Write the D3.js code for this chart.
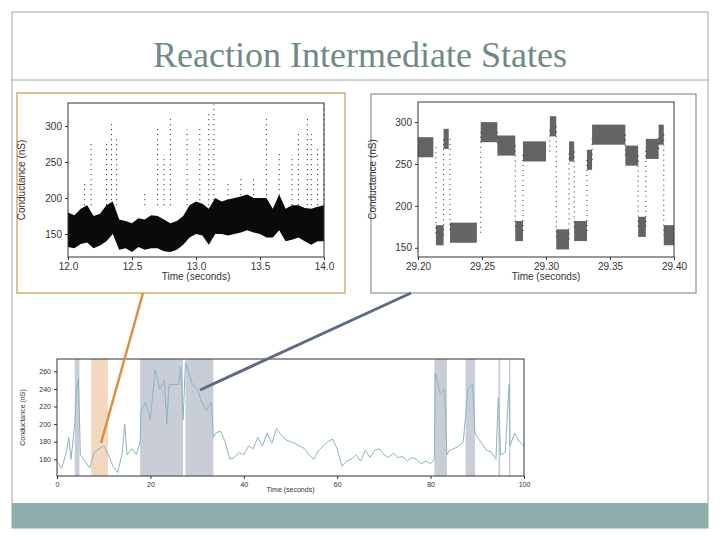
<!DOCTYPE html>
<html><head><meta charset="utf-8">
<script src="https://cdn.jsdelivr.net/npm/d3@7"></script>
<style>body{margin:0;background:#fff}svg{display:block}</style>
</head><body><svg id="c" width="720" height="540"></svg>
<script>
// bottom trace: [time s, conductance nS]
const traceT = [0,1,2,2.5,3,3.8,4.2,4.6,5,6,7,8,9,10,11,12,13,14,14.5,15,16,17,17.8,18,19,20,21,22,23,23.5,24,25,26,26.5,27,27.5,28,29,30,31,32,33,33.5,34,35,36,37,38,39,40,41,42,43,44,45,46,47,48,49,50,51,52,53,54,55,56,57,58,59,60,61,62,63,64,65,66,67,68,69,70,71,72,73,74,75,76,77,78,79,80,80.8,81,82,83,83.5,84,85,86,87,87.5,88,89,89.5,90,91,92,93,94,94.5,95,96,96.8,97,98,99,100];
const traceV = [158,150,168,185,160,200,240,252,165,158,150,168,172,175,165,152,145,168,200,165,172,165,180,215,225,205,262,240,250,200,245,245,245,265,205,270,262,245,240,225,215,225,185,190,192,180,160,162,168,165,175,172,185,175,190,178,195,188,182,180,178,175,172,165,160,170,175,180,183,172,152,158,160,165,158,170,162,170,172,165,162,167,162,163,158,162,160,155,158,155,160,258,235,240,165,170,172,175,180,210,240,245,190,185,178,170,168,160,230,165,168,245,175,190,180,175];
const grayBands = [[3.8,4.8],[17.8,27],[27.5,33.5],[80.8,83.5],[87.5,89.5],[94.5,94.9],[96.8,97.1]];
const orangeBands = [[7.3,10.9]];
const bottomXTicks = [0,20,40,60,80,100];
const bottomYTicks = [160,180,200,220,240,260];

// zoom 12-14 s: dense band low/high + sparse spikes
const bandT = [12.0,12.05,12.1,12.15,12.2,12.25,12.3,12.35,12.4,12.45,12.5,12.55,12.6,12.65,12.7,12.75,12.8,12.85,12.9,12.95,13.0,13.05,13.1,13.15,13.2,13.25,13.3,13.35,13.4,13.45,13.5,13.55,13.6,13.65,13.7,13.75,13.8,13.85,13.9,13.95,14.0];
const bandLo = [132,130,136,138,130,134,140,150,128,130,125,132,128,130,130,126,125,128,135,145,150,148,135,150,150,148,150,152,155,152,150,145,145,155,140,142,145,140,135,140,140];
const bandHi = [180,176,185,190,175,178,190,195,170,168,165,172,170,176,175,170,165,168,175,190,195,192,185,200,195,198,200,202,205,200,200,200,185,205,185,190,190,186,185,188,190];
const spikeT = [12.13,12.18,12.3,12.34,12.38,12.6,12.7,12.75,12.8,12.93,13.03,13.1,13.14,13.25,13.35,13.45,13.55,13.65,13.75,13.8,13.87,13.9,13.95,14.0];
const spikeV = [220,280,280,305,285,210,300,260,310,295,300,320,330,220,230,230,315,265,260,290,310,290,270,330];

// zoom 29.2-29.4 s: dwell segments [start, end, level]
const dwellStart = [29.200,29.214,29.220,29.225,29.249,29.262,29.276,29.282,29.303,29.308,29.318,29.322,29.332,29.336,29.362,29.372,29.378,29.388,29.392];
const dwellEnd   = [29.212,29.220,29.224,29.246,29.262,29.276,29.282,29.300,29.308,29.318,29.322,29.332,29.336,29.362,29.372,29.378,29.388,29.392,29.400];
const dwellLevel = [270,165,280,168,288,272,170,265,295,160,265,170,255,285,260,175,268,285,165];

const svg = d3.select("#c");
const font = "Liberation Sans, Arial, sans-serif";

// slide frame
svg.append("rect").attr("x",12).attr("y",12).attr("width",696).attr("height",516)
  .attr("fill","none").attr("stroke","#9aa8a6");
svg.append("line").attr("x1",12).attr("x2",708).attr("y1",80).attr("y2",80).attr("stroke","#9aa8a6");
svg.append("text").attr("x",360).attr("y",67).attr("text-anchor","middle")
  .attr("font-family","Liberation Serif, Times New Roman, serif").attr("font-size",36)
  .attr("fill","#6e8a86").text("Reaction Intermediate States");
svg.append("rect").attr("x",12).attr("y",503).attr("width",696).attr("height",25).attr("fill","#8eaeab");

function frame(g, x, y, xTicks, yTicks, xFmt, yFmt, fs, ylabel, xlabel, labelX) {
  const [x0,x1] = x.range(), [y1,y0] = y.range();
  g.append("g").attr("transform",`translate(0,${y1})`)
    .call(d3.axisBottom(x).tickValues(xTicks).tickFormat(xFmt).tickSize(3));
  g.append("g").attr("transform",`translate(${x0},0)`)
    .call(d3.axisLeft(y).tickValues(yTicks).tickFormat(yFmt).tickSize(3));
  g.selectAll(".domain").remove();
  g.selectAll(".tick text").attr("font-family",font).attr("font-size",fs).attr("fill","#333");
  g.selectAll(".tick line").attr("stroke","#333");
  g.append("rect").attr("x",x0).attr("y",y0).attr("width",x1-x0).attr("height",y1-y0)
    .attr("fill","none").attr("stroke","#333").attr("stroke-width",1);
  g.append("text").attr("x",(x0+x1)/2).attr("y",y1+fs*2.3).attr("text-anchor","middle")
    .attr("font-family",font).attr("font-size",fs).attr("fill","#333").text(xlabel);
  g.append("text").attr("transform",`translate(${labelX},${(y0+y1)/2}) rotate(-90)`)
    .attr("text-anchor","middle").attr("font-family",font).attr("font-size",fs)
    .attr("fill","#333").text(ylabel);
}

// ---- top-left panel
svg.append("rect").attr("x",17).attr("y",93).attr("width",328).attr("height",200)
  .attr("fill","none").attr("stroke","#d8ad6e").attr("stroke-width",1.5);
{
  const g = svg.append("g");
  const x = d3.scaleLinear().domain([12,14]).range([68,324]);
  const y = d3.scaleLinear().domain([118,332]).range([257,103]);
  const idx = d3.range(bandT.length);
  g.selectAll("line.sp").data(spikeT).enter().append("line")
    .attr("x1",d=>x(d)).attr("x2",d=>x(d)).attr("y1",y(190)).attr("y2",(d,i)=>y(spikeV[i]))
    .attr("stroke","#111").attr("stroke-width",1).attr("stroke-dasharray","1,4");
  g.append("path").datum(idx)
    .attr("d",d3.area().x(i=>x(bandT[i])).y0(i=>y(bandLo[i])).y1(i=>y(bandHi[i])))
    .attr("fill","#0a0a0a");
  frame(g,x,y,[12,12.5,13,13.5,14],[150,200,250,300],d3.format(".1f"),d3.format("d"),10,"Conductance (nS)","Time (seconds)",25);
}

// ---- top-right panel
svg.append("rect").attr("x",371).attr("y",94).attr("width",325).attr("height",199)
  .attr("fill","none").attr("stroke","#8a8f96").attr("stroke-width",1.2);
{
  const g = svg.append("g");
  const x = d3.scaleLinear().domain([29.2,29.4]).range([418,674]);
  const y = d3.scaleLinear().domain([139,324]).range([257,102]);
  const idx = d3.range(dwellStart.length);
  g.selectAll("line.tr").data(idx.slice(1)).enter().append("line")
    .attr("x1",i=>x(dwellStart[i])).attr("x2",i=>x(dwellStart[i]))
    .attr("y1",i=>y(dwellLevel[i-1])).attr("y2",i=>y(dwellLevel[i]))
    .attr("stroke","#222").attr("stroke-width",1).attr("stroke-dasharray","1,4");
  g.selectAll("rect.dw").data(idx).enter().append("rect")
    .attr("x",i=>x(dwellStart[i])).attr("width",i=>x(dwellEnd[i])-x(dwellStart[i]))
    .attr("y",i=>y(dwellLevel[i]+12)).attr("height",i=>y(dwellLevel[i]-12)-y(dwellLevel[i]+12))
    .attr("fill","#222").attr("opacity",0.7);
  frame(g,x,y,[29.2,29.25,29.3,29.35,29.4],[150,200,250,300],d3.format(".2f"),d3.format("d"),10,"Conductance (nS)","Time (seconds)",376);
}

// ---- bottom panel
{
  const g = svg.append("g");
  const x = d3.scaleLinear().domain([0,100]).range([57,524]);
  const y = d3.scaleLinear().domain([141,274]).range([476,359]);
  g.selectAll("rect.gb").data(grayBands).enter().append("rect")
    .attr("x",d=>x(d[0])).attr("width",d=>x(d[1])-x(d[0])).attr("y",359).attr("height",117)
    .attr("fill","#c9cdd7");
  g.selectAll("rect.ob").data(orangeBands).enter().append("rect")
    .attr("x",d=>x(d[0])).attr("width",d=>x(d[1])-x(d[0])).attr("y",359).attr("height",117)
    .attr("fill","#f2d8bf");
  g.append("path").datum(d3.range(traceT.length))
    .attr("d",d3.line().x(i=>x(traceT[i])).y(i=>y(traceV[i])))
    .attr("fill","none").attr("stroke","#8ab6bb").attr("stroke-width",1);
  frame(g,x,y,bottomXTicks,bottomYTicks,d3.format("d"),d3.format("d"),7,"Conductance (nS)","Time (seconds)",25);
}

// connectors
svg.append("line").attr("x1",143).attr("y1",293).attr("x2",101).attr("y2",443)
  .attr("stroke","#d8923e").attr("stroke-width",2.5);
svg.append("line").attr("x1",411).attr("y1",293).attr("x2",200).attr("y2",390)
  .attr("stroke","#5f6b86").attr("stroke-width",3);
</script></body></html>
